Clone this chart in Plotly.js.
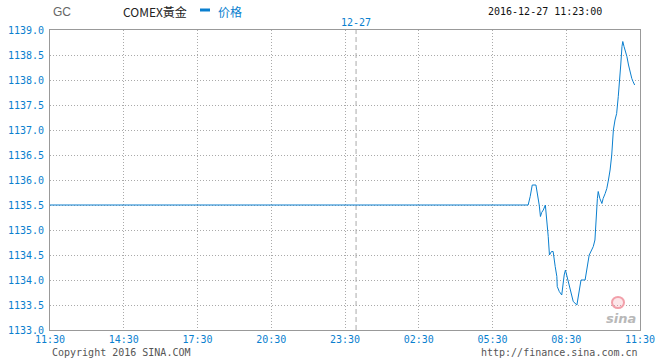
<!DOCTYPE html>
<html>
<head>
<meta charset="utf-8">
<script src="https://cdn.plot.ly/plotly-3.0.1.min.js"></script>
<style>
html,body{margin:0;padding:0;background:#fff;}
#chart{width:660px;height:360px;}
</style>
</head>
<body>
<div id="chart"></div>
<script>
// ---- data ----
const symbol = "GC";
const title = "COMEX黃金";
const seriesName = "价格";
const stamp = "2016-12-27 11:23:00";
const dayLabel = "12-27";
const rangeStart = "2016-12-26 11:30";
const rangeEnd = "2016-12-27 11:30";
const dayBoundary = "2016-12-26 23:57";
const prevClose = 1135.5;
const times = ["06:57","07:02","07:07","07:16","07:20","07:24","07:27","07:30","07:34","07:39",
  "07:46","07:49","07:54","07:58","08:03","08:07","08:08","08:13","08:19","08:20",
  "08:23","08:25","08:28","08:31","08:35","08:41","08:47","08:56","08:59","09:04",
  "09:06","09:16","09:20","09:22","09:26","09:32","09:36","09:40","09:42","09:44",
  "09:46","09:48","09:52","09:57","10:00","10:05","10:09","10:13","10:17","10:21",
  "10:25","10:29","10:33","10:37","10:41","10:43","10:46","10:48","10:51","10:54",
  "10:58","11:02","11:06","11:10","11:13","11:17"];
const prices = [1135.5,1135.67,1135.9,1135.9,1135.73,1135.5,1135.27,1135.35,1135.4,1135.5,
  1134.87,1134.5,1134.57,1134.57,1134.27,1134.07,1133.87,1133.77,1133.7,1133.77,
  1133.87,1134.1,1134.2,1134.1,1133.93,1133.73,1133.57,1133.5,1133.67,1133.9,
  1134.0,1134.0,1134.2,1134.33,1134.5,1134.6,1134.67,1134.8,1135.13,1135.37,
  1135.63,1135.77,1135.63,1135.53,1135.63,1135.73,1135.83,1136.0,1136.2,1136.5,
  1137.0,1137.2,1137.33,1137.67,1138.0,1138.3,1138.67,1138.77,1138.67,1138.6,
  1138.47,1138.3,1138.13,1138.03,1137.97,1137.9];
const xTickLabels = ["11:30","14:30","17:30","20:30","23:30","02:30","05:30","08:30","11:30"];

// ---- build ----
const xs = [rangeStart].concat(times.map(t => "2016-12-27 " + t));
const ys = [prevClose].concat(prices);

const blue = "#0a7fcf";
const mono = "DejaVu Sans Mono, monospace";
const trace = {
  x: xs, y: ys, type: "scatter", mode: "lines", name: seriesName,
  line: {color: "#0a7fcf", width: 1, shape: "linear"},
  hoverinfo: "skip"
};

const layout = {
  width: 660, height: 360,
  margin: {l: 50, r: 20, t: 30, b: 30, pad: 0},
  paper_bgcolor: "#fff", plot_bgcolor: "#fff",
  showlegend: false,
  xaxis: {
    type: "date", range: [rangeStart, rangeEnd],
    tick0: rangeStart, dtick: 3 * 3600000, tickformat: "%H:%M",
    showgrid: true, gridcolor: "#aaaaaa", griddash: "1px,2px", gridwidth: 1,
    zeroline: false, showline: true, linecolor: "#999999", linewidth: 1, mirror: true,
    ticks: "", tickfont: {family: mono, size: 10, color: blue},
    fixedrange: true
  },
  yaxis: {
    range: [1133, 1139], dtick: 0.5, tick0: 1133, tickformat: ".1f",
    showgrid: true, gridcolor: "#aaaaaa", griddash: "1px,2px", gridwidth: 1,
    zeroline: false, showline: true, linecolor: "#999999", linewidth: 1, mirror: true,
    ticks: "", ticklabelstandoff: 3, tickfont: {family: mono, size: 10, color: blue},
    fixedrange: true
  },
  shapes: [
    {type: "line", xref: "x", yref: "paper", x0: dayBoundary, x1: dayBoundary, y0: 0, y1: 1,
     line: {color: "#aaaaaa", width: 1, dash: "5px,3px"}, layer: "below"},
    {type: "line", xref: "paper", yref: "paper", x0: 150/590, x1: 160/590, y0: 320/300, y1: 320/300,
     line: {color: blue, width: 3}},
    {type: "circle", xref: "paper", yref: "paper", x0: 562/590, x1: 574/590, y0: 22/300, y1: 33/300,
     line: {color: "#f2a0aa", width: 2}, fillcolor: "rgba(242,160,170,0.25)"}
  ],
  annotations: [
    {text: symbol, xref: "paper", yref: "paper", x: 1/590, y: 318/300, xanchor: "left", yanchor: "middle",
     showarrow: false, font: {family: "Liberation Sans Narrow, Liberation Sans, sans-serif", size: 12, color: "#666"}},
    {text: title, xref: "paper", yref: "paper", x: 71/590, y: 318/300, xanchor: "left", yanchor: "middle",
     showarrow: false, font: {family: "Liberation Sans Narrow, Noto Sans CJK TC, sans-serif", size: 12, color: "#222"}},
    {text: seriesName, xref: "paper", yref: "paper", x: 166/590, y: 318/300, xanchor: "left", yanchor: "middle",
     showarrow: false, font: {family: "Noto Sans CJK SC, sans-serif", size: 12, color: blue}},
    {text: stamp, xref: "paper", yref: "paper", x: 436/590, y: 318/300, xanchor: "left", yanchor: "middle",
     showarrow: false, font: {family: mono, size: 10, color: "#111"}},
    {text: dayLabel, xref: "x", yref: "paper", x: dayBoundary, y: 308/300, xanchor: "center", yanchor: "middle",
     showarrow: false, font: {family: mono, size: 10, color: blue}},
    {text: "Copyright 2016 SINA.COM", xref: "paper", yref: "paper", x: 0, y: -22.5/300, xanchor: "left", yanchor: "middle",
     showarrow: false, font: {family: mono, size: 10, color: "#555"}},
    {text: "http://finance.sina.com.cn", xref: "paper", yref: "paper", x: 1, y: -22.5/300, xanchor: "right", yanchor: "middle",
     showarrow: false, font: {family: mono, size: 10, color: "#555"}},
    {text: "<b><i>sina</i></b>", xref: "paper", yref: "paper", x: 588/590, y: 12/300, xanchor: "right", yanchor: "middle",
     showarrow: false, font: {family: "DejaVu Sans, sans-serif", size: 13, color: "#b8b8b8"}}
  ]
};

Plotly.newPlot("chart", [trace], layout, {displayModeBar: false, staticPlot: true});
</script>
</body>
</html>
